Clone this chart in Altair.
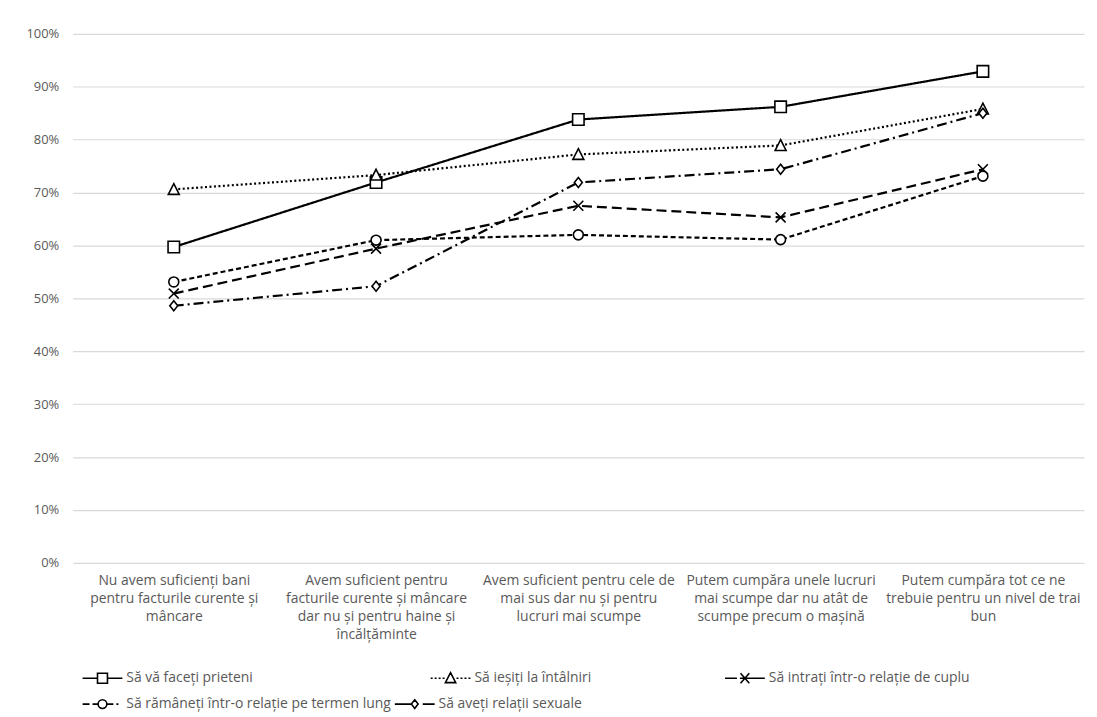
import altair as alt
import pandas as pd

# ---- data -------------------------------------------------------------
tick_labels = [
    ["Nu avem suficienți bani", "pentru facturile curente și", "mâncare"],
    ["Avem suficient pentru", "facturile curente și mâncare", "dar nu și pentru haine și", "încălțăminte"],
    ["Avem suficient pentru cele de", "mai sus dar nu și pentru", "lucruri mai scumpe"],
    ["Putem cumpăra unele lucruri", "mai scumpe dar nu atât de", "scumpe precum o mașină"],
    ["Putem cumpăra tot ce ne", "trebuie pentru un nivel de trai", "bun"],
]
categories = ["\n".join(lines) for lines in tick_labels]

series = [
    "Să vă faceți prieteni",
    "Să ieșiți la întâlniri",
    "Să intrați într-o relație de cuplu",
    "Să rămâneți într-o relație pe termen lung",
    "Să aveți relații sexuale",
]
prieteni = [59.7, 71.9, 83.8, 86.2, 92.9]
intalniri = [70.6, 73.3, 77.2, 78.9, 85.8]
cuplu = [50.9, 59.4, 67.5, 65.3, 74.4]
termen_lung = [53.1, 61.0, 62.0, 61.1, 73.1]
sexuale = [48.6, 52.3, 71.9, 74.4, 85.0]
values = [prieteni, intalniri, cuplu, termen_lung, sexuale]

y_ticks = list(range(0, 101, 10))

rows = []
for s, vals in zip(series, values):
    for c, v in zip(categories, vals):
        rows.append({"categorie": c, "serie": s, "procent": v})
df = pd.DataFrame(rows)

# ---- styles -----------------------------------------------------------
FONT = "Open Sans"
TXT = "#595959"
dashes = [[1, 0], [2, 2.5], [10, 5], [5, 3], [10, 4, 2, 4]]
marker_paths = [
    "M-1.15,-1.15H1.15V1.15H-1.15Z",
    "M0,-1.15L1.1,1H-1.1Z",
    "M-1,-1L1,1M-1,1L1,-1",
    "M1,0A1,1 0 1,1 -1,0A1,1 0 1,1 1,0Z",
    "M0,-1L0.8,0L0,1L-0.8,0Z",
]
legend_paths = [
    "M-1,0H-0.25M0.25,0H1M-0.25,-0.25H0.25V0.25H-0.25Z",
    "M-1,0H-0.9M-0.8,0H-0.7M-0.6,0H-0.5M-0.4,0H-0.3M0.3,0H0.4M0.5,0H0.6M0.7,0H0.8M0.9,0H1"
    "M0,-0.28L0.26,0.22H-0.26Z",
    "M-1,0H-0.4M-0.25,0H1M-0.22,-0.25L0.22,0.25M-0.22,0.25L0.22,-0.25",
    "M-1,0H-0.65M-0.5,0H-0.22M0.22,0H0.55M0.7,0H0.8"
    "M0.22,0A0.22,0.22 0 1,1 -0.22,0A0.22,0.22 0 1,1 0.22,0Z",
    "M-1,0H-0.2M0.4,0H1M0,-0.22L0.17,0L0,0.22L-0.17,0Z",
]
legend_pos = [(9, 627), (359, 627), (655, 627), (9, 653), (323, 653)]

x_enc = alt.X(
    "categorie:N",
    sort=categories,
    scale=alt.Scale(type="point", padding=0.5),
    axis=alt.Axis(
        title=None, labelAngle=0, labelExpr="split(datum.value, '\\n')",
        labelLineHeight=18, labelPadding=11, ticks=False, domain=False, grid=False,
        labelFont=FONT, labelFontSize=14, labelColor=TXT, labelLimit=400,
        labelOverlap=False,
    ),
)
y_enc = alt.Y(
    "procent:Q",
    scale=alt.Scale(domain=[0, 100], nice=False),
    axis=alt.Axis(
        title=None, values=y_ticks, labelExpr="datum.value + '%'", ticks=False,
        domain=False, gridColor="#d9d9d9", gridWidth=1.2, labelPadding=14,
        labelFont=FONT, labelFontSize=13, labelColor=TXT,
    ),
)

lines = alt.Chart().mark_line(color="black", strokeWidth=2.2).encode(
    x=x_enc, y=y_enc,
    strokeDash=alt.StrokeDash("serie:N", scale=alt.Scale(domain=series, range=dashes), legend=None),
)
points = alt.Chart().mark_point(
    filled=True, fill="white", stroke="black", strokeWidth=1.6, opacity=1, size=100
).encode(
    x=x_enc, y=y_enc,
    shape=alt.Shape("serie:N", scale=alt.Scale(domain=series, range=marker_paths), legend=None),
)

legend_layers = []
for name, path, (lx, ly) in zip(series, legend_paths, legend_pos):
    legend_layers.append(
        alt.Chart().mark_point(
            filled=False, color="black", strokeWidth=2, opacity=1
        ).encode(
            shape=alt.Shape(
                "serie:N",
                scale=alt.Scale(domain=[name], range=[path]),
                legend=alt.Legend(
                    title=None, orient="none", legendX=lx, legendY=ly, padding=0,
                    symbolSize=1600, symbolStrokeWidth=1.6,
                    symbolStrokeColor="black", symbolOpacity=1,
                    labelFont=FONT, labelFontSize=14, labelColor=TXT, labelOffset=3,
                    labelLimit=0,
                ),
            )
        ).transform_filter("false")
    )

chart = alt.layer(lines, points, *legend_layers, data=df).resolve_scale(
    shape="independent"
).properties(
    width=1017, height=532,
    autosize=alt.AutoSizeParams(type="none"),
    padding={"left": 65, "top": 24, "right": 5, "bottom": 150},
    background="white",
).configure_view(stroke=None)

chart.save("out.html", embed_options={"renderer": "svg", "actions": False})
